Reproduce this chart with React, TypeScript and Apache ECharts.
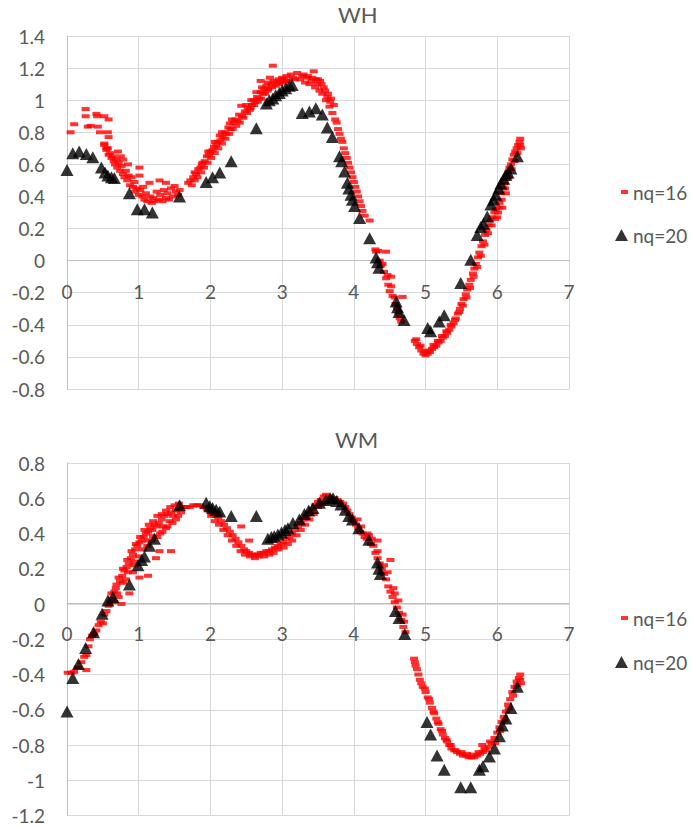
import React, { useEffect, useRef } from "react";
import * as echarts from "echarts";

const FONT = "Lato, 'Open Sans', sans-serif";
const TEXT_COLOR = "#595959";

const xTicks = [0, 1, 2, 3, 4, 5, 6, 7];
const whYRange = [-0.8, 1.4];
const wmYRange = [-1.2, 0.8];
const seriesNames = ["nq=16", "nq=20"];
const chartTitles = ["WH", "WM"];

// WH, nq=16 (red dashes)
const whNq16: number[][] = [
  [0.05, 0.80], [0.10, 0.85], [0.26, 0.945], [0.26, 0.90], [0.29, 0.835], [0.33, 0.84],
  [0.41, 0.915], [0.42, 0.90], [0.43, 0.835], [0.46, 0.80], [0.52, 0.90], [0.58, 0.88],
  [0.57, 0.80], [0.58, 0.77], [0.52, 0.73], [0.55, 0.70],
  [0.52, 0.72], [0.55, 0.69], [0.57, 0.70], [0.58, 0.66], [0.60, 0.67], [0.62, 0.64],
  [0.64, 0.65], [0.65, 0.62], [0.67, 0.60], [0.68, 0.63], [0.70, 0.58], [0.71, 0.68],
  [0.72, 0.61], [0.74, 0.56], [0.75, 0.65], [0.76, 0.59], [0.78, 0.54], [0.78, 0.63],
  [0.80, 0.52], [0.82, 0.56], [0.84, 0.50], [0.85, 0.60], [0.86, 0.53], [0.88, 0.47],
  [0.90, 0.52], [0.92, 0.46], [0.94, 0.49], [0.95, 0.43], [0.97, 0.45], [1.00, 0.41],
  [1.01, 0.58], [1.01, 0.53], [1.02, 0.44], [1.05, 0.40], [1.06, 0.46], [1.08, 0.38],
  [1.10, 0.42], [1.12, 0.37], [1.15, 0.485], [1.16, 0.40], [1.18, 0.36], [1.20, 0.39],
  [1.22, 0.37], [1.25, 0.43], [1.28, 0.38], [1.29, 0.50], [1.30, 0.41], [1.33, 0.37],
  [1.35, 0.44], [1.38, 0.485], [1.38, 0.39], [1.40, 0.42], [1.42, 0.38], [1.45, 0.45],
  [1.48, 0.40], [1.50, 0.465], [1.52, 0.43], [1.55, 0.41], [1.57, 0.44],
  [1.69, 0.485], [1.72, 0.50], [1.76, 0.52], [1.80, 0.54], [1.83, 0.57], [1.86, 0.58],
  [1.89, 0.61], [1.92, 0.62], [1.95, 0.65], [1.98, 0.66], [2.00, 0.68], [2.03, 0.69],
  [2.05, 0.71], [2.08, 0.72], [2.10, 0.74], [2.13, 0.78], [2.14, 0.75], [2.17, 0.77],
  [2.20, 0.80], [2.22, 0.79], [2.25, 0.83], [2.27, 0.855], [2.28, 0.82], [2.32, 0.86],
  [2.35, 0.88], [2.38, 0.87], [2.40, 0.91], [2.43, 0.965], [2.44, 0.90], [2.48, 0.93],
  [2.52, 0.95], [2.55, 0.94], [2.58, 0.97], [2.60, 1.00], [2.62, 0.99], [2.65, 1.02],
  [2.68, 1.01], [2.70, 1.05], [2.70, 1.12], [2.73, 1.04], [2.75, 1.07], [2.78, 1.09],
  [2.80, 1.06], [2.83, 1.14], [2.85, 1.10], [2.87, 1.215], [2.88, 1.12], [2.92, 1.11],
  [2.95, 1.13], [2.98, 1.12], [3.00, 1.14], [3.03, 1.13], [3.06, 1.15], [3.08, 1.12],
  [3.12, 1.16], [3.15, 1.14], [3.18, 1.13], [3.21, 1.17], [3.25, 1.13], [3.28, 1.15],
  [3.32, 1.11], [3.35, 1.14], [3.38, 1.10], [3.41, 1.12], [3.44, 1.18], [3.46, 1.08],
  [3.49, 1.10], [3.52, 1.06], [3.53, 1.12], [3.56, 1.04], [3.58, 1.08], [3.61, 1.00],
  [3.64, 1.04], [3.66, 0.96], [3.68, 1.01], [3.70, 0.92], [3.72, 0.97], [3.74, 0.88],
  [3.76, 0.86], [3.78, 0.82], [3.80, 0.79], [3.82, 0.76], [3.84, 0.74], [3.86, 0.70],
  [3.88, 0.67], [3.90, 0.64], [3.92, 0.61], [3.94, 0.58], [3.96, 0.55], [3.98, 0.52],
  [4.00, 0.49], [4.02, 0.46], [4.04, 0.43], [4.06, 0.40], [4.08, 0.37], [4.10, 0.34],
  [4.12, 0.31], [4.15, 0.28], [4.22, 0.25],
  [1.74, 0.47], [1.78, 0.50], [1.82, 0.52], [1.87, 0.55], [1.91, 0.58], [1.96, 0.61],
  [2.01, 0.64], [2.06, 0.67], [2.11, 0.70], [2.16, 0.73], [2.21, 0.76], [2.26, 0.79],
  [2.31, 0.82], [2.36, 0.84], [2.41, 0.86], [2.46, 0.89], [2.51, 0.92], [2.56, 0.95],
  [2.61, 0.97], [2.66, 0.99], [2.71, 1.01], [2.76, 1.04], [2.81, 1.07], [2.86, 1.08],
  [2.91, 1.09], [2.96, 1.10], [3.01, 1.11], [3.07, 1.12],
  [1.78, 0.55], [1.88, 0.60], [1.97, 0.68], [2.06, 0.74], [2.16, 0.80], [2.30, 0.88],
  [2.50, 0.97], [2.57, 1.00], [2.64, 1.05], [2.72, 1.08], [2.80, 1.11],
  [3.30, 1.16], [3.36, 1.15], [3.42, 1.14], [3.47, 1.13], [3.50, 1.13], [3.55, 1.10],
  [3.60, 1.06], [3.63, 1.02], [3.67, 0.99],
  [4.30, 0.07], [4.31, 0.056], [4.34, 0.06], [4.36, 0.00], [4.38, -0.03], [4.40, -0.02],
  [4.45, 0.056], [4.42, -0.07], [4.45, -0.11], [4.47, -0.09], [4.48, -0.15], [4.50, -0.19],
  [4.52, -0.16], [4.52, -0.10], [4.54, -0.22], [4.57, -0.23], [4.58, -0.27], [4.60, -0.30],
  [4.62, -0.33], [4.64, -0.36], [4.66, -0.38], [4.68, -0.226],
  [4.85, -0.50], [4.88, -0.52], [4.91, -0.54], [4.94, -0.56], [4.97, -0.58], [5.00, -0.59],
  [5.03, -0.58], [5.06, -0.57], [5.09, -0.55], [5.12, -0.54], [5.15, -0.53], [5.18, -0.51],
  [5.21, -0.50], [5.24, -0.48], [5.27, -0.47], [5.30, -0.45], [5.33, -0.43], [5.36, -0.41],
  [5.39, -0.39], [5.42, -0.36], [5.45, -0.33], [5.48, -0.30], [5.50, -0.27], [5.53, -0.24],
  [5.56, -0.21], [5.58, -0.18], [5.61, -0.15], [5.63, -0.12], [5.66, -0.08], [5.68, -0.05],
  [5.70, -0.02], [5.73, 0.02], [5.75, 0.05], [5.78, 0.09], [5.80, 0.12], [5.83, 0.16],
  [5.85, 0.19], [5.88, 0.22], [5.90, 0.25], [5.93, 0.27], [5.96, 0.30], [5.98, 0.32],
  [6.01, 0.30], [6.03, 0.36], [6.05, 0.42], [6.07, 0.33], [6.08, 0.45], [6.10, 0.48],
  [6.12, 0.42], [6.13, 0.51], [6.15, 0.55], [6.17, 0.58], [6.19, 0.60], [6.21, 0.63],
  [6.23, 0.66], [6.25, 0.68], [6.27, 0.70], [6.29, 0.72], [6.31, 0.74], [6.32, 0.76],
  [4.87, -0.49], [4.93, -0.53], [4.99, -0.565], [5.05, -0.56], [5.11, -0.525], [5.17, -0.50],
  [5.23, -0.47], [5.29, -0.44], [5.35, -0.40], [5.41, -0.37], [5.47, -0.32], [5.52, -0.28],
  [5.57, -0.23], [5.62, -0.17], [5.67, -0.10], [5.72, -0.04], [5.77, 0.03], [5.82, 0.10],
  [5.87, 0.17], [5.92, 0.22], [5.97, 0.26], [6.00, 0.27], [6.02, 0.33], [6.06, 0.38],
  [6.11, 0.45], [6.16, 0.52], [6.20, 0.57], [6.24, 0.62], [6.28, 0.67], [6.32, 0.72],
  [6.33, 0.70],
];

// WH, nq=20 (black triangles)
const whNq20: number[][] = [
  [0.00, 0.565], [0.08, 0.67], [0.17, 0.68], [0.27, 0.665], [0.36, 0.645], [0.48, 0.58],
  [0.53, 0.55], [0.57, 0.53], [0.62, 0.52], [0.66, 0.515], [0.87, 0.42], [0.98, 0.32],
  [1.08, 0.32], [1.19, 0.30], [1.57, 0.40], [1.94, 0.49], [2.03, 0.52], [2.13, 0.55],
  [2.29, 0.62], [2.64, 0.825], [2.78, 0.98], [2.82, 1.00], [2.87, 1.01], [2.91, 1.03],
  [2.96, 1.045], [3.00, 1.06], [3.05, 1.075], [3.10, 1.09], [3.14, 1.095], [3.28, 0.92],
  [3.38, 0.93], [3.47, 0.95], [3.56, 0.91], [3.63, 0.83], [3.70, 0.77], [3.80, 0.65],
  [3.83, 0.62], [3.87, 0.555], [3.91, 0.485], [3.93, 0.45], [3.96, 0.41], [3.98, 0.38],
  [4.01, 0.34], [4.08, 0.265], [4.22, 0.14], [4.31, 0.02], [4.33, -0.01], [4.35, -0.045],
  [4.59, -0.255], [4.61, -0.29], [4.63, -0.32], [4.70, -0.37], [5.03, -0.42], [5.07, -0.44],
  [5.19, -0.38], [5.26, -0.34], [5.49, -0.14], [5.63, 0.005], [5.72, 0.16], [5.77, 0.21],
  [5.81, 0.23], [5.86, 0.275], [5.91, 0.35], [5.95, 0.38], [5.98, 0.41], [6.02, 0.45],
  [6.05, 0.48], [6.09, 0.51], [6.12, 0.535], [6.15, 0.55], [6.19, 0.575], [6.28, 0.65],
];

// WM, nq=16 (red dashes)
const wmNq16: number[][] = [
  [0.01, -0.39], [0.06, -0.39], [0.10, -0.385], [0.15, -0.36], [0.20, -0.33], [0.24, -0.30],
  [0.27, -0.29], [0.27, -0.375], [0.30, -0.24], [0.32, -0.20], [0.35, -0.18], [0.38, -0.17],
  [0.41, -0.15], [0.44, -0.12], [0.47, -0.10], [0.50, -0.11], [0.52, -0.06], [0.55, -0.04],
  [0.58, -0.01], [0.60, 0.01], [0.63, 0.03], [0.66, 0.01], [0.66, 0.07], [0.69, 0.11],
  [0.72, 0.04], [0.74, 0.13], [0.76, 0.00], [0.77, 0.16], [0.80, 0.19], [0.82, 0.14],
  [0.83, 0.21], [0.86, 0.23], [0.87, 0.06], [0.89, 0.26], [0.92, 0.28], [0.92, 0.18],
  [0.94, 0.24], [0.95, 0.31], [0.98, 0.33], [1.01, 0.15], [1.01, 0.35], [1.04, 0.36],
  [1.07, 0.38], [1.10, 0.40], [1.13, 0.16], [1.13, 0.36], [1.13, 0.41], [1.16, 0.43],
  [1.19, 0.42], [1.20, 0.385], [1.22, 0.45], [1.24, 0.26], [1.25, 0.44], [1.28, 0.46],
  [1.29, 0.30], [1.30, 0.40], [1.32, 0.48], [1.34, 0.44], [1.36, 0.50], [1.38, 0.43],
  [1.40, 0.51], [1.43, 0.47], [1.45, 0.30], [1.45, 0.52], [1.48, 0.50], [1.52, 0.48],
  [1.52, 0.53], [1.56, 0.54], [1.59, 0.52], [1.62, 0.55], [1.66, 0.55], [1.71, 0.55],
  [0.62, 0.06], [0.68, 0.09], [0.72, 0.15], [0.78, 0.20], [0.84, 0.25], [0.90, 0.30],
  [0.96, 0.34], [1.02, 0.38], [1.08, 0.42], [1.14, 0.45], [1.20, 0.47], [1.26, 0.50],
  [1.32, 0.51], [1.38, 0.53], [1.44, 0.55], [1.50, 0.56], [1.56, 0.57], [0.70, 0.06],
  [0.78, 0.12], [0.85, 0.18], [0.93, 0.22], [1.00, 0.27], [1.06, 0.31], [1.12, 0.33],
  [1.18, 0.36], [1.26, 0.38], [1.33, 0.41], [1.40, 0.44], [1.47, 0.46], [1.55, 0.50],
  [1.76, 0.56], [1.81, 0.56], [1.85, 0.56], [1.90, 0.55], [1.95, 0.54], [1.99, 0.53],
  [2.03, 0.51], [2.07, 0.50], [2.11, 0.49], [2.15, 0.47], [2.19, 0.45], [2.23, 0.43],
  [2.27, 0.41], [2.31, 0.39], [2.35, 0.37], [2.39, 0.35], [2.43, 0.44], [2.43, 0.33],
  [2.47, 0.31], [2.50, 0.30], [2.54, 0.36], [2.54, 0.29], [2.58, 0.28], [2.62, 0.28],
  [2.66, 0.28], [2.70, 0.29], [2.74, 0.29], [2.78, 0.30], [2.82, 0.30], [2.86, 0.31],
  [2.90, 0.32], [2.94, 0.33], [2.98, 0.34], [3.02, 0.35], [3.06, 0.37], [3.10, 0.38],
  [3.14, 0.40], [3.18, 0.42], [3.22, 0.44], [3.26, 0.46], [3.30, 0.48], [3.34, 0.50],
  [3.38, 0.52], [3.42, 0.54], [3.46, 0.56], [3.50, 0.58], [3.54, 0.59], [3.58, 0.61],
  [2.01, 0.50], [2.06, 0.47], [2.12, 0.45], [2.18, 0.42], [2.24, 0.39], [2.30, 0.36],
  [2.36, 0.33], [2.42, 0.30], [2.48, 0.28], [2.55, 0.27], [2.62, 0.26], [2.68, 0.27],
  [2.75, 0.27], [2.82, 0.28], [2.88, 0.29], [2.95, 0.31], [3.02, 0.32], [3.08, 0.34],
  [3.14, 0.36], [3.20, 0.39], [3.26, 0.42], [3.32, 0.45], [3.38, 0.48], [3.44, 0.51],
  [3.50, 0.55], [3.56, 0.57],
  [3.61, 0.62], [3.65, 0.61], [3.69, 0.60], [3.73, 0.60], [3.77, 0.59], [3.81, 0.58],
  [3.85, 0.57], [3.88, 0.55], [3.91, 0.53], [3.94, 0.51], [3.97, 0.49], [4.00, 0.47],
  [4.03, 0.45], [4.06, 0.43], [4.09, 0.41], [4.12, 0.40], [4.15, 0.38], [4.18, 0.37],
  [4.21, 0.39], [4.24, 0.34], [4.27, 0.33], [4.30, 0.29], [4.33, 0.36], [4.33, 0.26],
  [4.36, 0.23], [4.39, 0.20], [4.42, 0.22], [4.42, 0.17], [4.45, 0.14], [4.48, 0.10],
  [4.51, 0.25], [4.51, 0.07], [4.54, 0.04], [4.57, 0.06], [4.57, 0.01], [4.60, -0.02],
  [4.63, -0.05], [4.66, -0.09], [4.69, -0.13], [4.72, -0.16],
  [4.05, 0.48], [4.10, 0.44], [4.19, 0.40], [4.25, 0.37], [4.33, 0.30], [4.47, 0.18],
  [4.55, 0.09], [4.62, 0.02], [4.68, -0.06], [4.70, -0.10],
  [4.84, -0.31], [4.85, -0.33], [4.86, -0.35], [4.90, -0.40], [4.92, -0.43], [4.96, -0.47],
  [5.00, -0.50], [5.03, -0.53], [5.06, -0.56], [5.09, -0.59], [5.12, -0.62], [5.15, -0.65],
  [5.18, -0.68], [5.21, -0.71], [5.24, -0.74], [5.27, -0.76], [5.30, -0.78], [5.33, -0.80],
  [5.36, -0.82], [5.40, -0.83], [5.44, -0.84], [5.48, -0.85], [5.52, -0.86], [5.56, -0.86],
  [5.60, -0.87], [5.64, -0.87], [5.68, -0.87], [5.72, -0.86], [5.76, -0.85], [5.79, -0.80],
  [5.80, -0.84], [5.84, -0.83], [5.88, -0.81], [5.92, -0.79], [5.96, -0.76], [6.00, -0.73],
  [6.03, -0.70], [6.06, -0.67], [6.09, -0.64], [6.12, -0.61], [6.15, -0.57], [6.18, -0.54],
  [6.21, -0.50], [6.24, -0.47], [6.27, -0.44], [6.30, -0.42], [6.32, -0.40],
  [4.88, -0.37], [4.94, -0.45], [4.99, -0.48], [5.05, -0.54], [5.11, -0.61], [5.17, -0.67],
  [5.23, -0.72], [5.29, -0.77], [5.35, -0.80], [5.42, -0.83], [5.50, -0.84], [5.58, -0.85],
  [5.66, -0.855], [5.74, -0.84], [5.82, -0.82], [5.90, -0.78], [5.97, -0.79], [6.04, -0.72],
  [6.10, -0.66], [6.16, -0.59], [6.22, -0.52], [6.28, -0.46], [6.32, -0.43], [6.33, -0.45],
];

// WM, nq=20 (black triangles)
const wmNq20: number[][] = [
  [0.00, -0.61], [0.08, -0.42], [0.16, -0.34], [0.26, -0.25], [0.37, -0.16], [0.49, -0.056],
  [0.57, 0.02], [0.64, 0.04], [0.87, 0.11], [0.99, 0.22], [1.04, 0.25], [1.08, 0.27],
  [1.15, 0.33], [1.22, 0.37], [1.57, 0.56], [1.94, 0.575], [1.99, 0.555], [2.03, 0.545],
  [2.08, 0.535], [2.13, 0.525], [2.29, 0.50], [2.64, 0.50], [2.80, 0.37], [2.85, 0.38],
  [2.89, 0.385], [2.94, 0.395], [2.99, 0.405], [3.04, 0.42], [3.08, 0.43], [3.15, 0.46],
  [3.24, 0.48], [3.31, 0.51], [3.37, 0.53], [3.43, 0.545], [3.52, 0.575], [3.61, 0.59],
  [3.67, 0.60], [3.71, 0.60], [3.76, 0.585], [3.82, 0.565], [3.88, 0.535], [3.93, 0.50],
  [3.98, 0.48], [4.07, 0.43], [4.21, 0.365], [4.33, 0.235], [4.35, 0.20], [4.37, 0.17],
  [4.58, -0.04], [4.63, -0.08], [4.71, -0.17], [5.02, -0.67], [5.07, -0.74], [5.16, -0.86],
  [5.26, -0.94], [5.49, -1.04], [5.63, -1.04], [5.75, -0.94], [5.80, -0.92], [5.89, -0.865],
  [5.96, -0.82], [6.03, -0.75], [6.07, -0.69], [6.12, -0.65], [6.19, -0.59], [6.28, -0.47],
];

const GRID_LEFT = 67;
const GRID_WIDTH = 502;
const GRID_HEIGHT = 353;
const GRID_TOPS = [36, 463];

const labelStyle = { color: TEXT_COLOR, fontSize: 19, fontFamily: FONT };
const fmt = (v: number) => String(Math.round(v * 10) / 10);

// distance (px) from the grid bottom up to the y = 0 line
function zeroOffset(range: number[]) {
  return -(GRID_HEIGHT * (0 - range[0])) / (range[1] - range[0]);
}

function makeXAxis(gridIndex: number, range: number[], margin: number) {
  return {
    type: "value",
    gridIndex,
    position: "bottom",
    offset: zeroOffset(range),
    min: xTicks[0],
    max: xTicks[xTicks.length - 1],
    interval: 1,
    axisLine: { show: true, onZero: false, lineStyle: { color: "#bfbfbf", width: 1 } },
    axisTick: { show: false },
    axisLabel: { ...labelStyle, margin, formatter: fmt },
    splitLine: { show: true, lineStyle: { color: "#d9d9d9", width: 1 } },
  };
}

function makeYAxis(gridIndex: number, range: number[]) {
  return {
    type: "value",
    gridIndex,
    min: range[0],
    max: range[1],
    interval: 0.2,
    axisLine: { show: true, onZero: false, lineStyle: { color: "#bfbfbf", width: 1 } },
    axisTick: { show: false },
    axisLabel: { ...labelStyle, margin: 22, formatter: fmt },
    splitLine: { show: true, lineStyle: { color: "#d9d9d9", width: 1 } },
  };
}

function redSeries(idx: number, data: number[][]) {
  return {
    name: seriesNames[0],
    type: "scatter",
    xAxisIndex: idx,
    yAxisIndex: idx,
    data,
    symbol: "rect",
    symbolSize: [8, 4],
    itemStyle: { color: "#ff0000" },
    z: 2,
  };
}

function blackSeries(idx: number, data: number[][]) {
  return {
    name: seriesNames[1],
    type: "scatter",
    xAxisIndex: idx,
    yAxisIndex: idx,
    data,
    symbol: "triangle",
    symbolSize: [13, 12],
    itemStyle: { color: "#000000" },
    z: 3,
  };
}

function legendPair(top16: number, top20: number) {
  const textStyle = { color: TEXT_COLOR, fontSize: 19, fontFamily: FONT, lineHeight: 20 };
  return [
    {
      data: [{ name: seriesNames[0], icon: "rect" }],
      left: 621,
      top: top16,
      padding: 0,
      itemWidth: 7,
      itemHeight: 4,
      itemGap: 5,
      selectedMode: false,
      textStyle,
    },
    {
      data: [{ name: seriesNames[1], icon: "triangle" }],
      left: 615,
      top: top20,
      padding: 0,
      itemWidth: 13,
      itemHeight: 12,
      itemGap: 5,
      selectedMode: false,
      textStyle,
    },
  ];
}

export default function App() {
  const ref = useRef<HTMLDivElement>(null);
  useEffect(() => {
    if (!ref.current) return;
    const chart = echarts.init(ref.current, undefined, { renderer: "svg" });
    const titleStyle = { color: TEXT_COLOR, fontSize: 22, fontWeight: "normal", fontFamily: FONT };
    chart.setOption({
      animation: false,
      backgroundColor: "#ffffff",
      title: [
        { text: chartTitles[0], left: 338, top: 3, padding: 0, textStyle: titleStyle },
        { text: chartTitles[1], left: 335, top: 428, padding: 0, textStyle: titleStyle },
      ],
      grid: GRID_TOPS.map((top) => ({ left: GRID_LEFT, top, width: GRID_WIDTH, height: GRID_HEIGHT })),
      xAxis: [makeXAxis(0, whYRange, 21), makeXAxis(1, wmYRange, 20)],
      yAxis: [makeYAxis(0, whYRange), makeYAxis(1, wmYRange)],
      legend: [...legendPair(182, 225), ...legendPair(608, 652)],
      series: [
        redSeries(0, whNq16),
        blackSeries(0, whNq20),
        redSeries(1, wmNq16),
        blackSeries(1, wmNq20),
      ],
    });
    return () => chart.dispose();
  }, []);
  return (
    <div
      ref={ref}
      style={{ position: "absolute", left: 0, top: 0, width: 693, height: 825 }}
    />
  );
}
